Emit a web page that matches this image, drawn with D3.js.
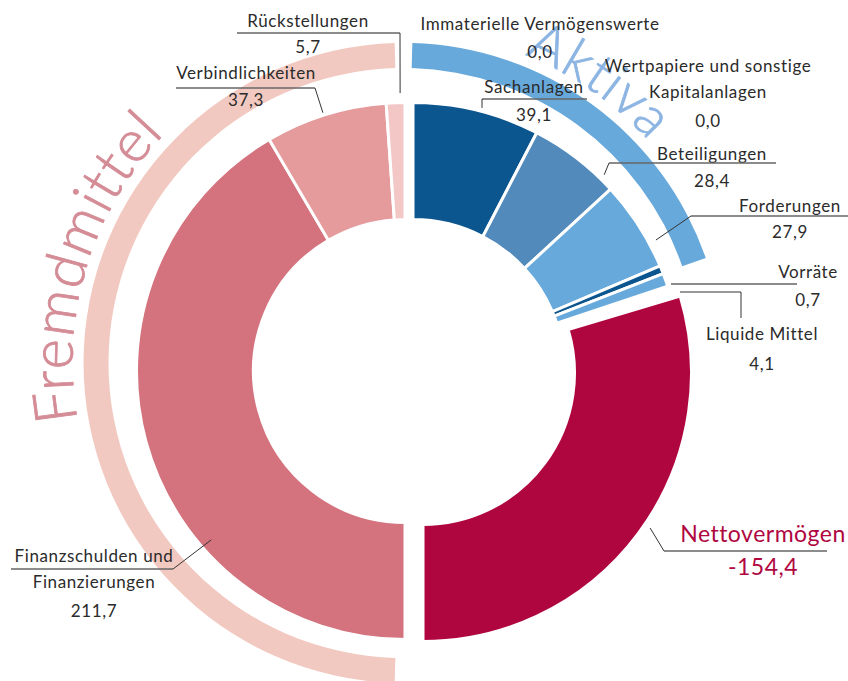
<!DOCTYPE html>
<html>
<head>
<meta charset="utf-8">
<script src="https://d3js.org/d3.v7.min.js"></script>
<style>
  body { margin: 0; background: #fff; }
  svg text { font-family: Lato, "Open Sans", sans-serif; }
</style>
</head>
<body>
<svg id="chart" width="848" height="681"></svg>
<script>
// Aktiva, im Uhrzeigersinn ab 12 Uhr
const aktivaNames = ["Immaterielle Vermögenswerte", "Sachanlagen", "Wertpapiere und sonstige Kapitalanlagen",
                     "Beteiligungen", "Forderungen", "Vorräte", "Liquide Mittel"];
const aktivaValues = [0.0, 39.1, 0.0, 28.4, 27.9, 0.7, 4.1];
const nettoName = "Nettovermögen";
const nettoValue = -154.4;
// Fremdmittel, im Uhrzeigersinn ab 6 Uhr
const passivaNames = ["Finanzschulden und Finanzierungen", "Verbindlichkeiten", "Rückstellungen"];
const passivaValues = [211.7, 37.3, 5.7];
const ringNames = ["Aktiva", "Fremdmittel"];

const colors = {
    "Immaterielle Vermögenswerte": "#0c568f",
    "Sachanlagen": "#0c568f",
    "Wertpapiere und sonstige Kapitalanlagen": "#528abb",
    "Beteiligungen": "#528abb",
    "Forderungen": "#68a9dc",
    "Vorräte": "#0c568f",
    "Liquide Mittel": "#68a9dc",
    "Nettovermögen": "#b0063f",
    "Finanzschulden und Finanzierungen": "#d4737e",
    "Verbindlichkeiten": "#e59b9c",
    "Rückstellungen": "#f2c7c6"
};

const de = d3.formatLocale({decimal: ",", thousands: ".", grouping: [3], currency: ["", " €"], minus: "-"});
const fmt = de.format(".1f");

const svg = d3.select('svg#chart');

// geometry
const sw = 3;                      // white separator
const rOuter = 267 + sw / 2, rInner = 153 - sw / 2;
const aktivaCenter = [413, 371];
const passivaCenter = [405, 371];
const nettoShift = [10, 2];
const nettoPad = 0.03;
const ringCenter = [403.5, 363];
const ringInner = 295, ringOuter = 320;
const ringPad = 8.5 / 307;
const minShown = 2.5;              // tiny slices stay visible

const shownValue = d => d.value === 0 ? 0 : Math.max(Math.abs(d.value), minShown);

const rightData = aktivaNames.map((n, i) => ({name: n, value: aktivaValues[i]}))
    .concat([{name: nettoName, value: nettoValue}]);
const leftData = passivaNames.map((n, i) => ({name: n, value: passivaValues[i]}));

const rightArcs = d3.pie().sort(null).value(shownValue)
    .startAngle(0).endAngle(Math.PI)(rightData);
const leftArcs = d3.pie().sort(null).value(shownValue)
    .startAngle(Math.PI).endAngle(2 * Math.PI)(leftData);

const arc = d3.arc().innerRadius(rInner).outerRadius(rOuter);

// outer rings
const aktivaSum = d3.sum(aktivaValues);
const aktivaAngle = aktivaSum / (aktivaSum + Math.abs(nettoValue)) * Math.PI;
const ringArc = d3.arc().innerRadius(ringInner).outerRadius(ringOuter);

const ringG = svg.append('g')
    .attr('transform', `translate(${ringCenter[0]},${ringCenter[1]})`);

ringG.append('path')
    .attr('d', ringArc({startAngle: ringPad, endAngle: aktivaAngle}))
    .attr('fill', '#68a9dc');
ringG.append('path')
    .attr('d', ringArc({startAngle: Math.PI + ringPad, endAngle: 2 * Math.PI - ringPad}))
    .attr('fill', '#f2c9c0');

// ring titles along the ring
function arcPath(r, a0, a1) {
    const p = d3.path();
    p.arc(0, 0, r, a0 - Math.PI / 2, a1 - Math.PI / 2, false);
    return p.toString();
}
const deg = Math.PI / 180;
ringG.append('path').attr('id', 'pathAktiva').attr('fill', 'none')
    .attr('d', arcPath(331, 21.5 * deg, 70 * deg));
ringG.append('path').attr('id', 'pathFremd').attr('fill', 'none')
    .attr('d', arcPath(331, 260 * deg, 340 * deg));

ringG.append('text')
    .attr('font-size', 55).attr('font-weight', 300).attr('fill', '#8db5e3')
    .attr('stroke', '#8db5e3').attr('stroke-width', 0.8)
    .attr('letter-spacing', 1)
    .append('textPath').attr('href', '#pathAktiva').text(ringNames[0]);
ringG.append('text')
    .attr('font-size', 58).attr('font-weight', 300).attr('fill', '#d48c96')
    .attr('stroke', '#d48c96').attr('stroke-width', 0.8)
    .attr('letter-spacing', 1)
    .append('textPath').attr('href', '#pathFremd').text(ringNames[1]);

// donut halves
const rightG = svg.append('g')
    .attr('transform', `translate(${aktivaCenter[0]},${aktivaCenter[1]})`);
rightArcs.forEach(d => {
    if (d.endAngle - d.startAngle <= 0) return;
    let g = rightG;
    let dd = d;
    if (d.data.name === nettoName) {
        g = rightG.append('g').attr('transform', `translate(${nettoShift[0]},${nettoShift[1]})`);
        dd = Object.assign({}, d, {startAngle: d.startAngle + nettoPad});
    }
    g.append('path')
        .attr('d', arc(dd))
        .attr('fill', colors[d.data.name])
        .attr('stroke', '#fff')
        .attr('stroke-width', sw);
});

const leftG = svg.append('g')
    .attr('transform', `translate(${passivaCenter[0]},${passivaCenter[1]})`);
leftArcs.forEach(d => {
    leftG.append('path')
        .attr('d', arc(d))
        .attr('fill', colors[d.data.name])
        .attr('stroke', '#fff')
        .attr('stroke-width', sw);
});

// labels
const labelLayout = {
    "Rückstellungen": {x: 308, ys: [27, 53], under: [237, 400, 33], elbow: [400, 33], at: 0.75, dr: 11},
    "Verbindlichkeiten": {x: 246, ys: [79, 106], under: [176, 315, 88], elbow: [315, 88], at: 0.484, dr: 4},
    "Finanzschulden und Finanzierungen": {x: 94, ys: [562, 588, 617], br: 2, under: [11, 173, 569], elbow: [173, 569], at: 0.327, dr: -10},
    "Immaterielle Vermögenswerte": {x: 540, ys: [30, 58]},
    "Sachanlagen": {x: 534, ys: [93, 121], under: [482, 587, 99], elbow: [482, 99], at: 0.5355, dr: 5},
    "Wertpapiere und sonstige Kapitalanlagen": {x: 708, ys: [72, 98, 127], br: 3},
    "Beteiligungen": {x: 712, ys: [160, 187], under: [609, 776, 163], elbow: [609, 163], at: 0.843, dr: 7},
    "Forderungen": {x: 790, ys: [212, 238], under: [691, 848, 216], elbow: [691, 216], at: 0.729, dr: 9},
    "Vorräte": {x: 808, ys: [278, 306], under: [671, 797, 284]},
    "Liquide Mittel": {x: 762, ys: [340, 370], path: [[741, 318], [741, 292], [680, 292]]},
    "Nettovermögen": {x: 763, ys: [542, 575], under: [664, 827, 551], elbow: [664, 551], at: 0.478, dr: 8, big: true}
};

const labelG = svg.append('g');
const allArcs = rightArcs.map(d => ({d, side: 'right'})).concat(leftArcs.map(d => ({d, side: 'left'})));

allArcs.forEach(({d, side}) => {
    const name = d.data.name;
    const L = labelLayout[name];
    if (!L) return;
    const words = name.split(' ');
    const lines = L.br ? [words.slice(0, L.br).join(' '), words.slice(L.br).join(' ')] : [name];
    const color = L.big ? '#b0063f' : '#2b2b2b';
    const size = L.big ? 23 : 17;

    lines.concat([fmt(d.data.value)]).forEach((t, i) => {
        labelG.append('text')
            .attr('x', L.x).attr('y', L.ys[i])
            .attr('text-anchor', 'middle')
            .attr('font-size', size)
            .attr('letter-spacing', L.big ? 0.5 : 0.6)
            .attr('fill', color)
            .text(t);
    });

    if (L.under) {
        labelG.append('line')
            .attr('x1', L.under[0]).attr('x2', L.under[1])
            .attr('y1', L.under[2]).attr('y2', L.under[2])
            .attr('stroke', '#666').attr('stroke-width', 1.3);
    }
    if (L.elbow) {
        let c = side === 'left' ? passivaCenter : aktivaCenter;
        let a0 = d.startAngle;
        if (name === nettoName) {
            c = [c[0] + nettoShift[0], c[1] + nettoShift[1]];
            a0 += nettoPad;
        }
        const a = a0 + L.at * (d.endAngle - a0);
        const r = rOuter - sw / 2 + L.dr;
        const p = [c[0] + r * Math.sin(a), c[1] - r * Math.cos(a)];
        labelG.append('path')
            .attr('d', d3.line()([L.elbow, p]))
            .attr('fill', 'none').attr('stroke', '#333').attr('stroke-width', 1);
    }
    if (L.path) {
        labelG.append('path')
            .attr('d', d3.line()(L.path))
            .attr('fill', 'none').attr('stroke', '#333').attr('stroke-width', 1);
    }
});
</script>
</body>
</html>
